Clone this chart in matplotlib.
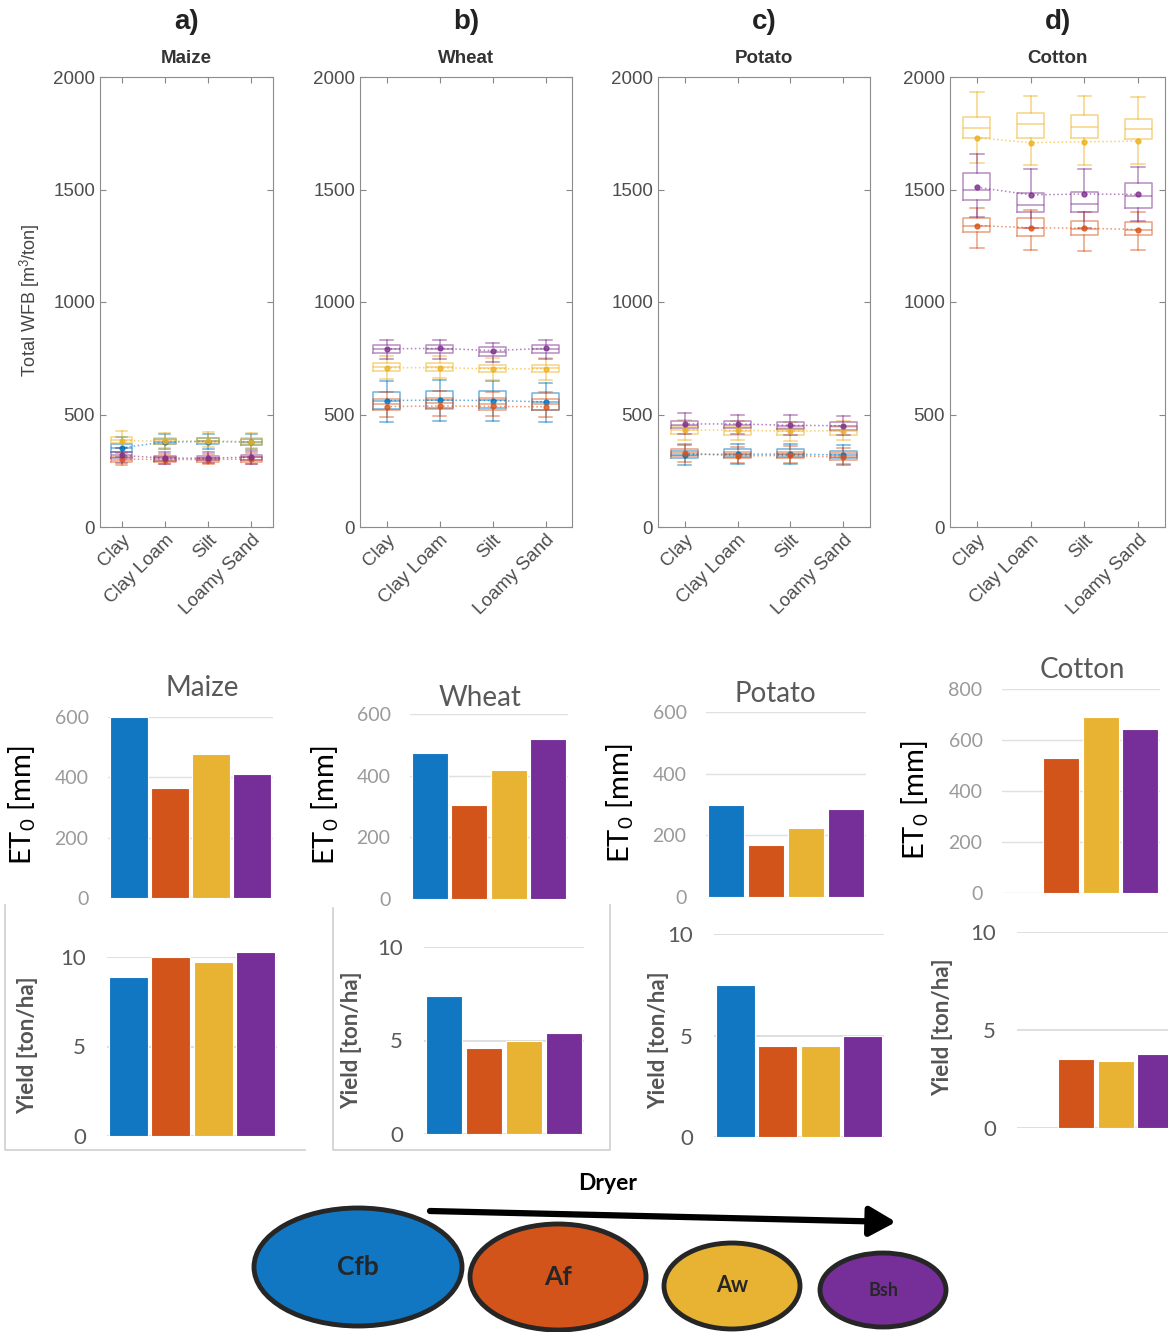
import numpy as np
import matplotlib
matplotlib.use('Agg')
import matplotlib.pyplot as plt
from matplotlib.patches import Ellipse
from matplotlib.lines import Line2D

plt.rcParams['mathtext.fontset'] = 'custom'
plt.rcParams['mathtext.rm'] = 'Lato'
plt.rcParams['mathtext.it'] = 'Lato:italic'

W, H = 1168, 1332

crops = ['Maize', 'Wheat', 'Potato', 'Cotton']
tags = ['a)', 'b)', 'c)', 'd)']
soils = ['Clay', 'Clay Loam', 'Silt', 'Loamy Sand']
climates = ['Cfb', 'Af', 'Aw', 'Bsh']

# total WFB box stats [m3/ton]; rows = Cfb, Af, Aw, Bsh ; cols = soils
maize_med = [[350, 380, 382, 378], [300, 298, 298, 300], [385, 382, 384, 380], [318, 305, 305, 310]]
maize_q1 = [[335, 368, 370, 366], [290, 290, 290, 290], [372, 370, 372, 368], [305, 295, 296, 298]]
maize_q3 = [[368, 392, 394, 390], [312, 310, 308, 312], [398, 395, 397, 394], [332, 315, 316, 322]]
maize_lo = [[310, 345, 348, 345], [275, 278, 280, 278], [350, 352, 355, 350], [285, 282, 283, 282]]
maize_hi = [[400, 415, 415, 412], [330, 325, 325, 328], [425, 420, 422, 420], [350, 335, 335, 340]]
maize_mean = [[352, 378, 380, 377], [302, 300, 300, 302], [384, 381, 383, 380], [318, 306, 306, 311]]

wheat_med = [[560, 565, 565, 555], [545, 550, 548, 545], [710, 710, 705, 705], [790, 792, 780, 792]]
wheat_q1 = [[525, 530, 530, 520], [520, 525, 522, 520], [695, 695, 690, 690], [772, 775, 762, 774]]
wheat_q3 = [[600, 605, 605, 595], [570, 575, 572, 570], [728, 728, 722, 722], [808, 810, 798, 810]]
wheat_lo = [[465, 470, 470, 465], [490, 495, 492, 490], [660, 662, 655, 655], [745, 748, 735, 745]]
wheat_hi = [[650, 655, 650, 640], [600, 605, 600, 598], [760, 760, 752, 752], [830, 830, 820, 830]]
wheat_mean = [[562, 564, 562, 556], [535, 538, 536, 534], [708, 708, 703, 703], [792, 794, 784, 794]]

potato_med = [[320, 325, 325, 320], [330, 318, 320, 312], [430, 428, 425, 428], [455, 455, 450, 448]]
potato_q1 = [[305, 310, 310, 305], [315, 305, 305, 298], [412, 410, 408, 410], [440, 440, 435, 432]]
potato_q3 = [[340, 345, 345, 340], [345, 335, 335, 328], [448, 445, 442, 445], [472, 472, 468, 465]]
potato_lo = [[275, 280, 280, 275], [290, 285, 285, 280], [385, 385, 382, 385], [415, 415, 410, 410]]
potato_hi = [[365, 370, 368, 365], [370, 355, 358, 350], [475, 470, 468, 470], [505, 500, 498, 495]]
potato_mean = [[322, 324, 324, 320], [328, 316, 318, 310], [432, 430, 426, 428], [458, 458, 452, 450]]

nan4 = [np.nan] * 4
cotton_med = [nan4, [1340, 1330, 1325, 1320], [1775, 1790, 1780, 1770], [1500, 1430, 1435, 1470]]
cotton_q1 = [nan4, [1312, 1295, 1300, 1298], [1730, 1730, 1730, 1725], [1455, 1398, 1400, 1420]]
cotton_q3 = [nan4, [1372, 1372, 1362, 1355], [1822, 1840, 1830, 1815], [1572, 1484, 1490, 1530]]
cotton_lo = [nan4, [1240, 1230, 1225, 1230], [1620, 1610, 1610, 1615], [1380, 1330, 1330, 1360]]
cotton_hi = [nan4, [1420, 1410, 1400, 1400], [1935, 1915, 1915, 1910], [1660, 1590, 1590, 1600]]
cotton_mean = [nan4, [1340, 1330, 1328, 1322], [1730, 1708, 1712, 1715], [1510, 1476, 1480, 1478]]

# ET0 [mm] and yield [ton/ha] per climate (no Cfb cotton)
et0_maize = [600, 365, 478, 410]
et0_wheat = [475, 305, 420, 520]
et0_potato = [300, 170, 225, 285]
et0_cotton = [np.nan, 530, 690, 645]

yield_maize = [8.9, 10.0, 9.7, 10.3]
yield_wheat = [7.4, 4.6, 5.0, 5.4]
yield_potato = [7.5, 4.5, 4.5, 5.0]
yield_cotton = [np.nan, 3.5, 3.4, 3.8]

box_stats = {
    'Maize': (maize_med, maize_q1, maize_q3, maize_lo, maize_hi, maize_mean),
    'Wheat': (wheat_med, wheat_q1, wheat_q3, wheat_lo, wheat_hi, wheat_mean),
    'Potato': (potato_med, potato_q1, potato_q3, potato_lo, potato_hi, potato_mean),
    'Cotton': (cotton_med, cotton_q1, cotton_q3, cotton_lo, cotton_hi, cotton_mean),
}
et0_all = [et0_maize, et0_wheat, et0_potato, et0_cotton]
yield_all = [yield_maize, yield_wheat, yield_potato, yield_cotton]

matlab_cols = ['#0072BD', '#D95319', '#EDB120', '#7E2F8E']
bar_cols = ['#1177C2', '#D2541A', '#E8B332', '#762F98']


def rect(x0, x1, ytop, ybot):
    return [x0 / W, 1 - ybot / H, (x1 - x0) / W, (ybot - ytop) / H]


fig = plt.figure(figsize=(W / 100, H / 100), dpi=100)
fig.patch.set_facecolor('white')

# ---- top row: boxplots
box_x = [(100, 273), (360, 572), (658, 870), (950, 1165)]
for k, crop in enumerate(crops):
    ax = fig.add_axes(rect(box_x[k][0], box_x[k][1], 77, 527))
    med, q1, q3, lo, hi, mean = box_stats[crop]
    for ci, col in enumerate(matlab_cols):
        if np.isnan(med[ci][0]):
            continue
        stats = []
        for s in range(4):
            stats.append(dict(med=med[ci][s], q1=q1[ci][s], q3=q3[ci][s],
                              whislo=lo[ci][s], whishi=hi[ci][s], mean=mean[ci][s]))
        lp = dict(color=col, lw=1.1, alpha=0.55)
        ax.bxp(stats, positions=[1, 2, 3, 4], widths=0.5, showmeans=True, showfliers=False,
               boxprops=lp, whiskerprops=lp, capprops=lp, medianprops=lp,
               meanprops=dict(marker='o', markersize=3.5, mfc=col, mec=col, alpha=0.8))
        ax.plot([1, 2, 3, 4], mean[ci], ':', color=col, lw=1.1, alpha=0.6)
    ax.set_xlim(0.5, 4.5)
    ax.set_ylim(0, 2000)
    ax.set_yticks([0, 500, 1000, 1500, 2000])
    ax.set_xticks([1, 2, 3, 4])
    ax.set_xticklabels(soils, rotation=45, ha='right', rotation_mode='anchor',
                       fontsize=13, color='#4d4d4d', family='Liberation Sans')
    for lab in ax.get_yticklabels():
        lab.set_family('Liberation Sans')
    ax.tick_params(direction='in', top=True, right=True, length=4, color='#888888',
                   labelcolor='#4d4d4d', labelsize=13.5)
    for sp in ax.spines.values():
        sp.set_color('#8c8c8c')
    ax.text(0.5, 1.122, tags[k], transform=ax.transAxes, ha='center', va='center',
            fontsize=20, fontweight='bold', family='Liberation Sans', color='#222222')
    ax.text(0.5, 1.042, crop, transform=ax.transAxes, ha='center', va='center',
            fontsize=13.5, fontweight='bold', family='Liberation Sans', color='#333333')

fig.text(30 / W, 1 - 300 / H, 'Total WFB [m$^3$/ton]', rotation=90, ha='center', va='center',
         fontsize=13, color='#444444', family='Liberation Sans')

# ---- middle row: ET0 bars
et_geo = [(108, 273, 717, 898, 600), (410, 568, 714, 899, 600),
          (706, 866, 712, 897, 600), (1002, 1160, 689, 893, 800)]
et_title = [(202, 688), (480, 698), (775, 694), (1082, 670)]
et_ylab = [(22, 805), (325, 805), (620, 803), (915, 800)]
for k, crop in enumerate(crops):
    x0, x1, yt, yb, ym = et_geo[k]
    ax = fig.add_axes(rect(x0, x1, yt, yb))
    ax.bar(range(4), et0_all[k], width=0.92, color=bar_cols, edgecolor='white', lw=0.8,
           zorder=2, clip_on=False)
    ax.set_xlim(-0.5, 3.5)
    ax.set_ylim(0, ym)
    ax.set_yticks(np.arange(0, ym + 1, 200))
    ax.grid(axis='y', color='#E0E0E0', lw=1, zorder=0)
    ax.set_axisbelow(True)
    ax.set_xticks([])
    for sp in ax.spines.values():
        sp.set_visible(False)
    ax.tick_params(axis='y', length=0, pad=14, labelsize=14, labelcolor='#9a9a9a')
    for lab in ax.get_yticklabels():
        lab.set_family('Lato')
    fig.text(et_title[k][0] / W, 1 - et_title[k][1] / H, crop, ha='center', va='center',
             fontsize=20, color='#595959', family='Lato')
    fig.text(et_ylab[k][0] / W, 1 - et_ylab[k][1] / H, r'ET$_0$ [mm]', rotation=90,
             ha='center', va='center', fontsize=21, color='black', family='Lato')

# ---- bottom row: yield bars
y_geo = [(107, 277, 957, 1136), (424, 584, 947, 1134),
         (714, 884, 934, 1137), (1017, 1175, 932, 1128)]
y_ylab = [(28, 1045), (352, 1040), (659, 1040), (943, 1027)]
for k, crop in enumerate(crops):
    x0, x1, yt, yb = y_geo[k]
    ax = fig.add_axes(rect(x0, x1, yt, yb))
    ax.bar(range(4), yield_all[k], width=0.92, color=bar_cols, edgecolor='white', lw=0.8,
           zorder=2, clip_on=False)
    ax.set_xlim(-0.5, 3.5)
    ax.set_ylim(0, 10)
    ax.set_yticks([0, 5, 10])
    ax.grid(axis='y', color='#D9D9D9', lw=1.2, zorder=0)
    ax.set_axisbelow(True)
    ax.set_xticks([])
    for sp in ax.spines.values():
        sp.set_visible(False)
    ax.tick_params(axis='y', length=0, pad=15, labelsize=16, labelcolor='#595959')
    for lab in ax.get_yticklabels():
        lab.set_family('Lato')
    fig.text(y_ylab[k][0] / W, 1 - y_ylab[k][1] / H, 'Yield [ton/ha]', rotation=90,
             ha='center', va='center', fontsize=16, fontweight='bold', color='#555555',
             family='Lato')

# ---- overlay: panel frames and climate legend
ov = fig.add_axes([0, 0, 1, 1])
ov.set_xlim(0, W)
ov.set_ylim(H, 0)
ov.axis('off')
frame_col = '#D0D0D0'
ov.add_line(Line2D([5, 5, 305], [905, 1150, 1150], color=frame_col, lw=1.2))
ov.add_line(Line2D([333, 333, 610, 610], [908, 1150, 1150, 905], color=frame_col, lw=1.2))

ell_geo = [(358, 1267, 208, 118, 19), (558, 1277, 176, 106, 19),
           (732, 1286, 136, 86, 15.5), (883, 1290, 126, 74, 13)]
for ci, name in enumerate(climates):
    cx, cy, ew, eh, fs = ell_geo[ci]
    ov.add_patch(Ellipse((cx, cy), ew, eh, facecolor=bar_cols[ci], edgecolor='#262626', lw=3.5))
    ov.text(cx, cy, name, ha='center', va='center', fontsize=fs, fontweight='bold',
            color='#262626', family='Lato')

ov.annotate('', xy=(896, 1222), xytext=(430, 1211),
            arrowprops=dict(arrowstyle='-|>,head_length=0.8,head_width=0.45', lw=4.5,
                            color='black', mutation_scale=20, shrinkA=0, shrinkB=0))
ov.text(608, 1183, 'Dryer', ha='center', va='center', fontsize=16.5, fontweight='bold',
        color='black', family='Lato')

fig.savefig('out.png', dpi=100, facecolor='white')
